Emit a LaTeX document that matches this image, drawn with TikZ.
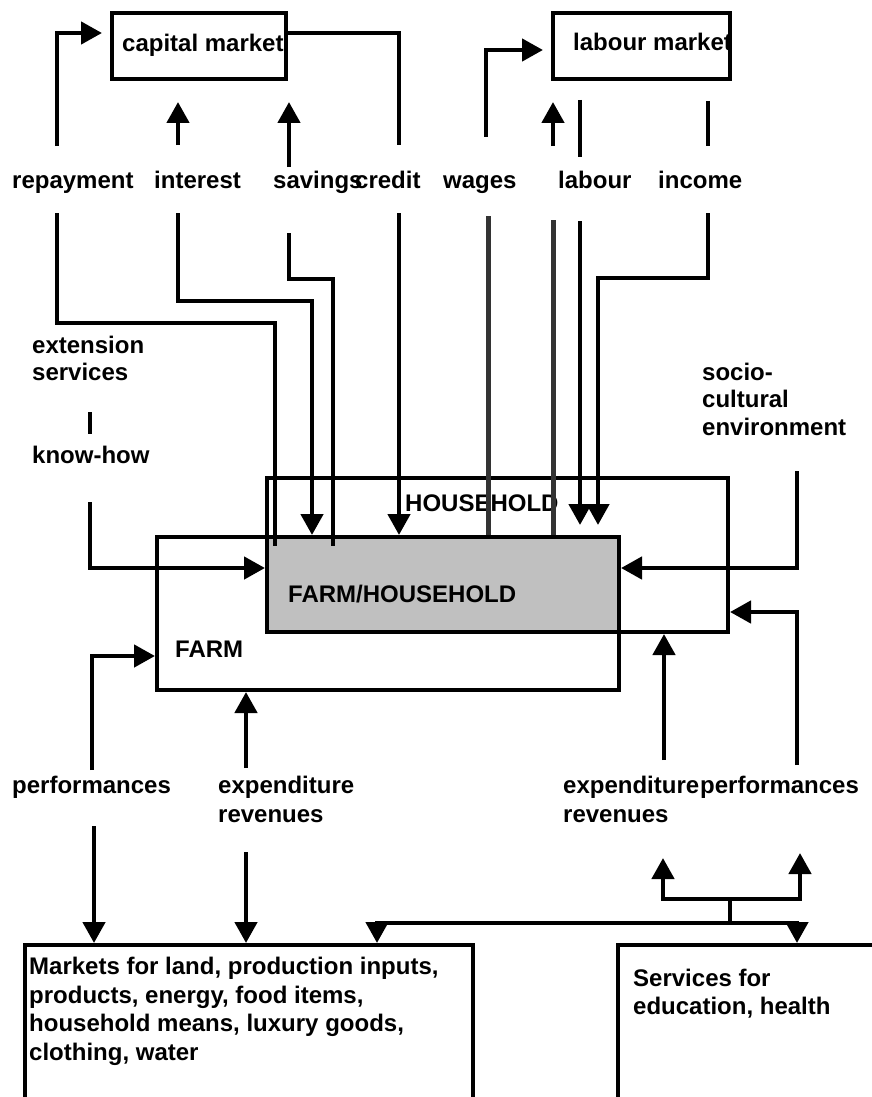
\documentclass[tikz,border=0pt]{standalone}
\usepackage{fontspec}
\setmainfont{Liberation Sans}
\usetikzlibrary{arrows.meta}
\definecolor{hhgrey}{HTML}{C0C0C0}
\definecolor{wiregrey}{HTML}{333333}
\tikzstyle{lbl} = [inner sep=0pt, anchor=base west, align=left,
    font=\fontsize{24}{27.5}\selectfont\bfseries]
\tikzstyle{box} = [draw, line width=4.5pt, inner sep=0pt, outer sep=2pt]
\tikzstyle{wire} = [line width=4.5pt]
\tikzstyle{greywire} = [line width=5pt, draw=wiregrey]
\tikzstyle{flow} = [line width=4.5pt, -{Triangle[length=21pt,width=22pt]}]
\tikzstyle{fork} = [line width=4.5pt, {Triangle[length=21pt,width=22pt]}-{Triangle[length=21pt,width=22pt]}]

\begin{document}
\begin{tikzpicture}[x=1pt,y=-1pt]
	\useasboundingbox (0,0) rectangle (871,1097);

	% markets on top
	\node(capitaltxt) [lbl] at (122,52) {capital market};
	\node(capital) [box, minimum width=174pt, minimum height=66pt] at (199,46) {};
	\node(labourtxt) [lbl] at (573,51) {labour market};
	\node(labour) [box, minimum width=177pt, minimum height=66pt] at (641.5,46) {};

	% farm and household
	\node(farmhh) [box, draw=none, fill=hhgrey, minimum width=352pt, minimum height=95pt] at (443,584.5) {};
	\node(farm) [box, minimum width=462pt, minimum height=153pt] at (388,613.5) {};
	\node(household) [box, minimum width=461pt, minimum height=154pt] at (497.5,555) {};
	\node(hhtxt) [lbl] at (405,511) {HOUSEHOLD};
	\node(farmhhtxt) [lbl] at (288,602) {FARM/HOUSEHOLD};
	\node(farmtxt) [lbl] at (175,657) {FARM};

	% markets and services below (base = last line)
	\node(markets) [box, minimum width=448pt, minimum height=185pt] at (249,1037.5) {};
	\node(marketstxt) [lbl, font=\fontsize{24}{28.5}\selectfont\bfseries] at (29,1060)
		{Markets for land, production inputs,\\products, energy, food items,\\household means, luxury goods,\\clothing, water};
	\node(services) [box, minimum width=332pt, minimum height=185pt] at (784,1037.5) {};
	\node(servicestxt) [lbl] at (633,1014) {Services for\\education, health};

	% labels
	\node(repay) [lbl] at (12,188) {repayment};
	\node(interest) [lbl] at (154,188) {interest};
	\node(savings) [lbl] at (273,188) {savings};
	\node(credit) [lbl] at (355,188) {credit};
	\node(wages) [lbl] at (443,188) {wages};
	\node(labourlbl) [lbl] at (558,188) {labour};
	\node(income) [lbl] at (658,188) {income};
	\node(extension) [lbl, font=\fontsize{24}{27}\selectfont\bfseries] at (32,380) {extension\\services};
	\node(knowhow) [lbl] at (32,463) {know-how};
	\node(socio) [lbl] at (702,435) {socio-\\cultural\\environment};
	\node(perfL) [lbl] at (12,793) {performances};
	\node(expL) [lbl, font=\fontsize{24}{29}\selectfont\bfseries] at (218,822) {expenditure\\revenues};
	\node(expR) [lbl, font=\fontsize{24}{29}\selectfont\bfseries] at (563,822) {expenditure\\revenues};
	\node(perfR) [lbl] at (700,793) {performances};

	% capital market flows
	\coordinate (repay-up) at (57,146);
	\coordinate (repay-dn) at (57,213);
	\coordinate (int-up) at (178,145);
	\coordinate (int-dn) at (178,213);
	\coordinate (sav-up) at (289,167);
	\coordinate (sav-dn) at (289,233);
	\coordinate (cred-up) at (399,145);
	\coordinate (cred-dn) at (399,213);
	\draw[flow] (repay-up) |- ([xshift=-8pt,yshift=13pt]capital.west);
	\draw[flow] (int-up) -- ++(0,-43);
	\draw[flow] (sav-up) -- ++(0,-65);
	\draw[wire] ([yshift=13pt]capital.east) -| (cred-up);
	\draw[wire] (repay-dn) |- ++(218,110) -- ++(0,223);
	\draw[flow] (int-dn) |- ++(134,88) -- (farmhh.north -| 312,0);
	\draw[wire] (sav-dn) |- ++(44,46) -- ++(0,267);
	\draw[flow] (cred-dn) -- (cred-dn |- farmhh.north);

	% labour market flows
	\coordinate (wage-up) at (486,137);
	\coordinate (wage-dn) at (488,216);
	\coordinate (lab-up) at (553,146);
	\coordinate (lab-in) at (553,220);
	\coordinate (lab-top) at (580,100);
	\coordinate (lab-dn) at (580,221);
	\coordinate (inc-top) at (708,101);
	\coordinate (inc-dn) at (708,213);
	\draw[flow] (wage-up) |- ([xshift=-8pt,yshift=-4pt]labour.west);
	\draw[flow] (lab-up) -- ++(0,-44);
	\draw[wire] (lab-top) -- ++(0,57);
	\draw[wire] (inc-top) -- ++(0,45);
	\draw[greywire] (wage-dn) -- (wage-dn |- farmhh.north);
	\draw[greywire] (lab-in) -- (lab-in |- farmhh.north);
	\draw[flow] (lab-dn) -- ++(0,304);
	\draw[flow] (inc-dn) |- ++(-110,65) -- ++(0,247);

	% environment
	\coordinate (ext-a) at (90,412);
	\coordinate (kh-a) at (90,502);
	\coordinate (soc-a) at (797,471);
	\draw[wire] (ext-a) -- ++(0,22);
	\draw[flow] (kh-a) |- (farmhh.west |- 0,568);
	\draw[flow] (soc-a) |- (farmhh.east |- 0,568);

	% expenditure and performances
	\coordinate (perfL-a) at (92,770);
	\coordinate (expL-a) at (246,768);
	\coordinate (expR-a) at (664,760);
	\coordinate (perfR-a) at (797,765);
	\draw[flow] (perfL-a) |- (farm.west |- 0,656);
	\draw[flow] (expL-a) -- (expL-a |- farm.south);
	\draw[flow] (expR-a) -- (expR-a |- household.south);
	\draw[flow] (perfR-a) |- (household.east |- 0,612);

	% lower flows
	\coordinate (perfL-b) at (94,826);
	\coordinate (expL-b) at (246,852);
	\coordinate (branch) at (797,923);
	\coordinate (stem) at (730,899);
	\coordinate (up-exp) at (663,858);
	\coordinate (up-perf) at (800,853);
	\draw[flow] (perfL-b) -- (perfL-b |- markets.north);
	\draw[flow] (expL-b) -- (expL-b |- markets.north);
	\draw[fork] (markets.north -| 377,0) |- (branch) -- (services.north -| branch);
	\draw[wire] (stem) -- (stem |- branch);
	\draw[fork] (up-exp) |- (stem) -| (up-perf);
\end{tikzpicture}
\end{document}
